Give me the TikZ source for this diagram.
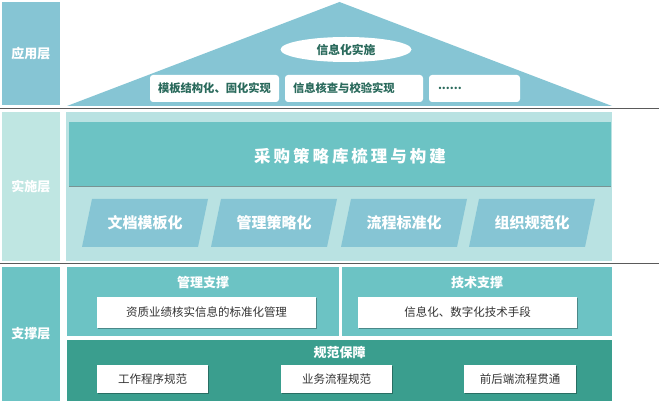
\documentclass[tikz,border=0pt]{standalone}
\usepackage{fontspec}
\setmainfont{Noto Sans CJK SC}
\usetikzlibrary{shapes.geometric,shadows}
\definecolor{appblue}{HTML}{86C5D4}
\definecolor{lightteal}{HTML}{B9E2E2}
\definecolor{labteal}{HTML}{BFE6E2}
\definecolor{tealA}{HTML}{6CC3C4}
\definecolor{tealB}{HTML}{3A9E8E}
\definecolor{darkgreen}{HTML}{2A6A5C}
\definecolor{txtgray}{HTML}{333333}
\definecolor{linegray}{HTML}{5A5A5A}
\begin{document}
\begin{tikzpicture}[x=1pt,y=-1pt,
  blk/.style={inner sep=0pt, outer sep=0pt},
  lab/.style={blk, text=white, font=\bfseries\fontsize{13}{15}\selectfont},
  appbox/.style={blk, fill=white, rounded corners=3pt, minimum height=27pt},
  apptxt/.style={blk, text=darkgreen, font=\bfseries\fontsize{11.3}{13}\selectfont},
  ptxt/.style={blk, text=white, font=\bfseries\fontsize{15}{17}\selectfont},
  ttl/.style={blk, text=white, font=\bfseries\fontsize{13}{15}\selectfont},
  wbox/.style={blk, fill=white, text=txtgray, font=\fontsize{11.5}{13}\selectfont,
    drop shadow={shadow xshift=0.8pt, shadow yshift=-1pt, opacity=0.3, fill=black}},
  sepline/.style={linegray, line width=1.6pt}]
\useasboundingbox (0,0) rectangle (662,403);
\fill[white] (0,0) rectangle (662,403);

% layer labels
\node[lab, fill=appblue, minimum width=58pt, minimum height=103pt] (lapp) at (31,53.5) {应用层};
\node[lab, fill=labteal, minimum width=58pt, minimum height=149pt] (limp) at (31,186.5) {实施层};
\node[lab, fill=tealA, minimum width=58pt, minimum height=134pt] (lsup) at (31,334) {支撑层};

% separator lines
\coordinate (s1a) at (0,108.5); \coordinate (s1b) at (659,108.5);
\coordinate (s2a) at (0,263.5); \coordinate (s2b) at (659,263.5);
\draw[sepline] (s1a) -- (s1b);
\draw[sepline] (s2a) -- (s2b);

% application layer: roof
\coordinate (ta) at (67,106); \coordinate (tb) at (339.5,2); \coordinate (tc) at (612,106);
\fill[appblue] (ta) -- (tb) -- (tc) -- cycle;
\node[ellipse, blk, fill=white, minimum width=131pt, minimum height=25pt,
  text=darkgreen, font=\bfseries\fontsize{11.8}{13}\selectfont] (ell) at (346,49.5) {信息化实施};
\node[appbox, minimum width=129pt] (a1) at (214.5,88.5) {};
\node[apptxt, anchor=west] (a1t) at ([xshift=8pt]a1.west) {模板结构化、固化实现};
\node[appbox, minimum width=138pt] (a2) at (354,88.5) {};
\node[apptxt, anchor=west] (a2t) at ([xshift=8pt]a2.west) {信息核查与校验实现};
\node[appbox, minimum width=91pt] (a3) at (474.5,88.5) {};
\node[apptxt, anchor=west] (a3t) at ([xshift=9pt]a3.west) {......};

% implementation layer
\node[blk, fill=lightteal, minimum width=546pt, minimum height=149pt] (iarea) at (339,186.5) {};
\node[blk, fill=tealA, minimum width=542pt, minimum height=64pt,
  drop shadow={shadow xshift=0pt, shadow yshift=-1.5pt, opacity=0.35, fill=black}] (core) at (340,154) {};
\node[blk, text=white, font=\bfseries\fontsize{16.5}{18}\selectfont\addfontfeature{LetterSpace=18}] (coret) at (350,156) {采购策略库梳理与构建};
\foreach \a/\t/\n in {82/文档模板化/p1, 211/管理策略化/p2, 341/流程标准化/p3, 469/组织规范化/p4}{
  \fill[appblue] ({\a},247) -- ({\a+116},247) -- ({\a+126},199) -- ({\a+10},199) -- cycle;
  \node[ptxt] (\n) at ({\a+63},223) {\t};
}

% support layer
\node[blk, fill=tealA, minimum width=272pt, minimum height=69pt] (mg) at (203,301.5) {};
\node[ttl] (mgt) at (203,283) {管理支撑};
\node[wbox, minimum width=219pt, minimum height=31pt] (mgw) at (206.5,312.5) {资质业绩核实信息的标准化管理};
\node[blk, fill=tealA, minimum width=270pt, minimum height=69pt] (tech) at (477,301.5) {};
\node[ttl] (techt) at (477,283) {技术支撑};
\node[wbox, minimum width=219pt, minimum height=31pt] (techw) at (467.5,312.5) {信息化、数字化技术手段};
\node[blk, fill=tealB, minimum width=545pt, minimum height=61pt] (norm) at (339.5,370.5) {};
\node[ttl] (normt) at (339.5,352) {规范保障};
\node[wbox, minimum width=111pt, minimum height=28pt] (n1) at (152.5,379) {工作程序规范};
\node[wbox, minimum width=111pt, minimum height=28pt] (n2) at (336.5,379) {业务流程规范};
\node[wbox, minimum width=112pt, minimum height=28pt] (n3) at (520,379) {前后端流程贯通};
\end{tikzpicture}
\end{document}
